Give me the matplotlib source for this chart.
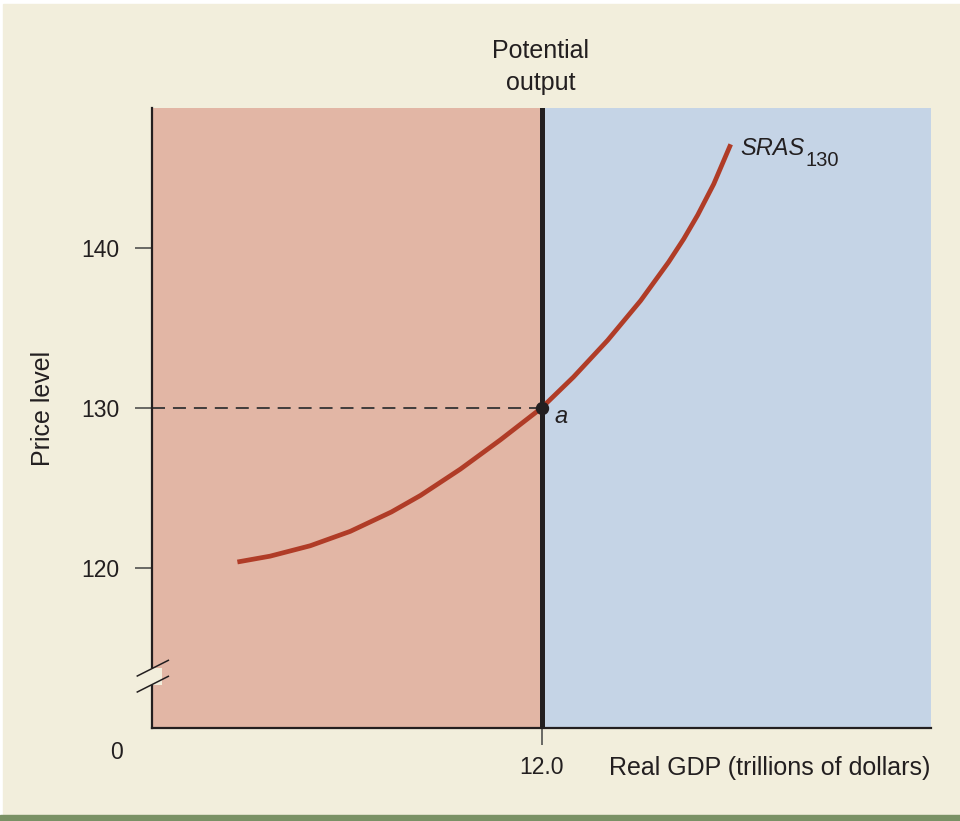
"""
Short-run aggregate supply curve with potential output.
"""

import numpy as np
import matplotlib.pyplot as plt
from matplotlib.patches import Rectangle

plt.rcParams['font.family'] = ['Liberation Sans', 'DejaVu Sans']

# Data
gdp = [8.877, 9.213, 9.625, 10.036, 10.458, 10.756, 11.167, 11.578, 12.0,
       12.329, 12.679, 13.018, 13.306, 13.460, 13.604, 13.769, 13.943]
price = [120.375, 120.74, 121.39, 122.29, 123.5, 124.53, 126.18, 128.01, 130.0,
         131.94, 134.23, 136.71, 139.125, 140.56, 142.06, 144.0, 146.48]
potential_output = 12.0
price_a = 130
y_ticks = [120, 130, 140]

cream = '#f2eedc'
pink = '#e2b6a5'
blue = '#c5d4e6'
red = '#b03c27'
ink = '#231f20'

fig = plt.figure(figsize=(9.6, 8.21), dpi=100)
fig.patch.set_facecolor('white')
fig.patches.append(Rectangle((3 / 960, 6 / 821), 1, 1 - 10 / 821,
                             transform=fig.transFigure, color=cream, zorder=-5))
fig.patches.append(Rectangle((0, 0), 1, 6 / 821, transform=fig.transFigure,
                             color='#7a9165', zorder=-4))

ax = fig.add_axes([152 / 960, 93 / 821, 779 / 960, 620 / 821])
ax.set_xlim(8, 16)
ax.set_ylim(110, 148.75)

# Shaded regions
ax.axvspan(8, potential_output, color=pink, lw=0, zorder=0)
ax.axvspan(potential_output, 16, color=blue, lw=0, zorder=0)

# Potential output line
ax.axvline(potential_output, color=ink, lw=3.6, zorder=3)

# Dashed guide to point a
ax.plot([8, potential_output], [price_a, price_a], color='#333333', lw=1.3,
        dashes=(7.2, 4.4), zorder=2)

# SRAS curve
ax.plot(gdp, price, color=red, lw=3.4, solid_capstyle='butt',
        solid_joinstyle='round', zorder=4)
ax.plot([potential_output], [price_a], 'o', color=ink, ms=8.6, zorder=5)

# Spines and ticks
for side in ['top', 'right']:
    ax.spines[side].set_visible(False)
for side in ['left', 'bottom']:
    ax.spines[side].set_color(ink)
    ax.spines[side].set_linewidth(1.6)
ax.set_yticks(y_ticks)
ax.set_yticklabels([str(t) for t in y_ticks])
ax.set_xticks([potential_output])
ax.set_xticklabels(['12.0'])
ax.tick_params(axis='both', length=12, width=1.1, color='#444444',
               labelsize=16.5, labelcolor=ink, pad=11.5)
ax.tick_params(axis='x', pad=8)

# Axis break
ax.add_patch(Rectangle((7.9, 112.69), 0.2, 1.06, color=cream, lw=0,
                       clip_on=False, zorder=6))
for y0 in [113.25, 112.25]:
    ax.plot([7.849, 8.168], [y0, y0 + 0.98], color=ink, lw=1.1,
            clip_on=False, zorder=7)

# Labels
ax.text(-0.045, -0.04, '0', transform=ax.transAxes, ha='center', va='center',
        fontsize=16.5, color=ink)
ax.text(0.999, -0.0758, 'Real GDP (trillions of dollars)', transform=ax.transAxes,
        ha='right', va='baseline', fontsize=18, color=ink)
fig.text(43 / 960, 1 - 408 / 821, 'Price level', rotation=90, ha='center',
         va='center', fontsize=18, color=ink)
fig.text(541 / 960, 1 - 67 / 821, 'Potential\noutput', ha='center',
         va='center', fontsize=18, color=ink, linespacing=1.45)
sras = ax.text(14.046, 145.81, 'SRAS', fontsize=17, style='italic', color=ink,
               ha='left', va='baseline')
ax.annotate('130', xy=(1, 0), xycoords=sras, xytext=(0.5, -7.5),
            textcoords='offset points', fontsize=14.5, color=ink,
            ha='left', va='bottom')
ax.text(12.134, 129.06, 'a', fontsize=17, style='italic', color=ink,
        ha='left', va='baseline')

plt.savefig('out.png', dpi=100, facecolor=fig.get_facecolor())
